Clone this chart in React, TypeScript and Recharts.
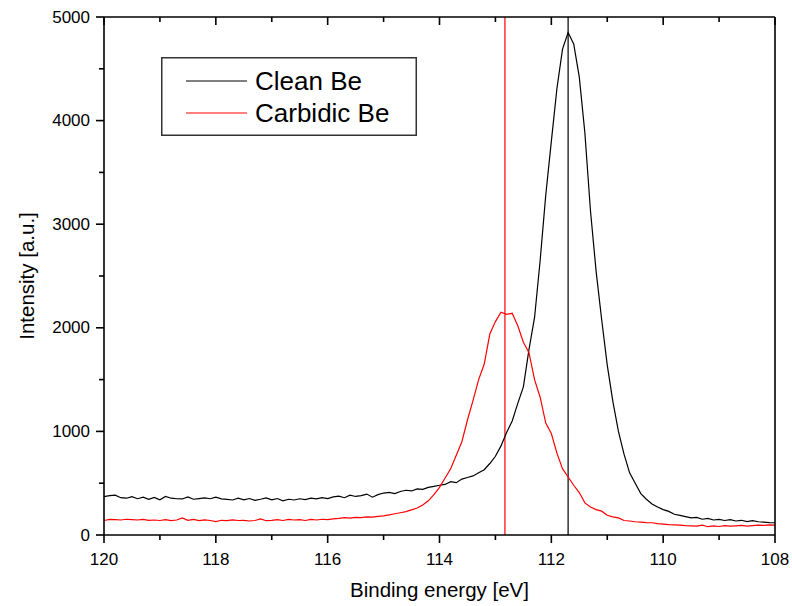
import {
  Label,
  Legend,
  Line,
  LineChart,
  ReferenceLine,
  XAxis,
  YAxis,
} from "recharts";

const energies = [
  120.0, 119.9, 119.8, 119.7, 119.6, 119.5, 119.4, 119.3, 119.2, 119.1,
  119.0, 118.9, 118.8, 118.7, 118.6, 118.5, 118.4, 118.3, 118.2, 118.1,
  118.0, 117.9, 117.8, 117.7, 117.6, 117.5, 117.4, 117.3, 117.2, 117.1,
  117.0, 116.9, 116.8, 116.7, 116.6, 116.5, 116.4, 116.3, 116.2, 116.1,
  116.0, 115.9, 115.8, 115.7, 115.6, 115.5, 115.4, 115.3, 115.2, 115.1,
  115.0, 114.9, 114.8, 114.7, 114.6, 114.5, 114.4, 114.3, 114.2, 114.1,
  114.0, 113.9, 113.8, 113.7, 113.6, 113.5, 113.4, 113.3, 113.2, 113.1,
  113.0, 112.9, 112.8, 112.7, 112.6, 112.5, 112.4, 112.3, 112.2, 112.1,
  112.0, 111.9, 111.8, 111.7, 111.6, 111.5, 111.4, 111.3, 111.2, 111.1,
  111.0, 110.9, 110.8, 110.7, 110.6, 110.5, 110.4, 110.3, 110.2, 110.1,
  110.0, 109.9, 109.8, 109.7, 109.6, 109.5, 109.4, 109.3, 109.2, 109.1,
  109.0, 108.9, 108.8, 108.7, 108.6, 108.5, 108.4, 108.3, 108.2, 108.1,
  108.0,
];

const cleanBe = [
  370, 380, 385, 360, 355, 370, 350, 365, 345, 362,
  340, 372, 355, 350, 348, 368, 345, 352, 358, 350,
  365, 348, 343, 338, 355, 340, 352, 335, 345, 358,
  340, 352, 330, 345, 338, 350, 342, 355, 348, 360,
  352, 368, 375, 360, 385, 372, 380, 395, 365, 390,
  405, 412, 400, 420, 432, 425, 445, 440, 460, 470,
  480, 488, 515, 505, 540, 555, 570, 600, 630, 690,
  760, 860, 990, 1100, 1270, 1430, 1790, 2100, 2650, 3280,
  3800, 4310, 4690, 4850, 4740, 4420, 3880, 3130, 2550, 2080,
  1640, 1290, 1000, 780, 600, 500, 400, 345, 300, 270,
  245, 228, 200, 190, 178, 165, 170, 152, 160, 145,
  150, 140, 148, 135, 142, 130, 138, 128, 125, 120,
  118,
];

const carbidicBe = [
  140, 150, 148, 145, 152, 148, 145, 150, 142, 145,
  140, 148, 138, 145, 165, 142, 150, 138, 145, 140,
  130, 142, 138, 145, 140, 142, 135, 140, 155, 138,
  142, 148, 140, 150, 145, 148, 140, 150, 145, 152,
  148, 155, 160, 168, 162, 170, 168, 175, 172, 180,
  185, 195, 205, 215, 225, 242, 260, 290, 330, 390,
  460, 550, 640, 770, 900, 1110, 1300, 1500, 1650, 1940,
  2060, 2150, 2130, 2140, 2020, 1860, 1760, 1500, 1330, 1080,
  980, 790, 640, 560, 480, 410, 310, 270, 245, 230,
  190, 175, 165, 140, 135, 128, 125, 120, 118, 110,
  105, 100, 98, 95, 90, 88, 85, 95, 80, 88,
  82, 90, 85, 88, 92, 85, 90, 95, 92, 98,
  95,
];

const seriesNames = ["Clean Be", "Carbidic Be"];

const xTicks = [120, 119, 118, 117, 116, 115, 114, 113, 112, 111, 110, 109, 108];
const yTicks = [0, 500, 1000, 1500, 2000, 2500, 3000, 3500, 4000, 4500, 5000];

// peak positions marked with vertical lines
const carbidicPeak = 112.83;
const cleanPeak = 111.7;

const data = energies.map((e, i) => ({
  energy: e,
  clean: cleanBe[i],
  carbidic: carbidicBe[i],
}));

const FONT = "'Liberation Sans', Arial, sans-serif";
const axisStroke = { stroke: "#000", strokeWidth: 1.6 };
const TW = 1.6; // tick thickness

const isMajorX = (v: number) => v % 2 === 0;
const isMajorY = (v: number) => v % 1000 === 0;

function BottomTick({ x, y, payload }: any) {
  const major = isMajorX(payload.value);
  return (
    <g>
      <rect x={x - TW / 2} y={y} width={TW} height={major ? 8 : 5} fill="#000" />
      {major && (
        <text x={x} y={y + 24} textAnchor="middle" dominantBaseline="central" fontSize={17} fill="#000" fontFamily={FONT}>
          {payload.value}
        </text>
      )}
    </g>
  );
}

function TopTick({ x, y, payload }: any) {
  const major = isMajorX(payload.value);
  return <rect x={x - TW / 2} y={y} width={TW} height={major ? 8 : 5} fill="#000" />;
}

function LeftTick({ x, y, payload }: any) {
  const major = isMajorY(payload.value);
  const len = major ? 8 : 5;
  return (
    <g>
      <rect x={x - len} y={y - TW / 2} width={len} height={TW} fill="#000" />
      {major && (
        <text x={x - 14} y={y} textAnchor="end" dominantBaseline="central" fontSize={17} fill="#000" fontFamily={FONT}>
          {payload.value}
        </text>
      )}
    </g>
  );
}

function RightTick({ x, y, payload }: any) {
  const len = isMajorY(payload.value) ? 8 : 5;
  return <rect x={x - len} y={y - TW / 2} width={len} height={TW} fill="#000" />;
}

function LegendBox({ payload }: any) {
  const items = [...(payload || [])].sort(
    (a: any, b: any) => seriesNames.indexOf(a.value) - seriesNames.indexOf(b.value)
  );
  return (
    <svg width={256} height={79} style={{ display: "block" }}>
      <rect x={0.75} y={0.75} width={254.5} height={77.5} fill="#fff" stroke="#333" strokeWidth={1.5} />
      {items.map((p: any, i: number) => (
        <g key={p.value}>
          <line x1={25} x2={86} y1={24 + i * 32} y2={24 + i * 32} stroke={p.color} strokeWidth={1.2} />
          <text x={94} y={24 + i * 32} dominantBaseline="central" fontSize={26} fill="#000" fontFamily={FONT}>
            {p.value}
          </text>
        </g>
      ))}
    </svg>
  );
}

export default function App() {
  const xCommon = {
    dataKey: "energy",
    type: "number" as const,
    domain: [108, 120],
    reversed: true,
    interval: 0 as const,
    ticks: xTicks,
    tickSize: 0,
    tickMargin: 0,
    tickLine: false,
    axisLine: axisStroke,
  };
  const yCommon = {
    type: "number" as const,
    domain: [0, 5000],
    interval: 0 as const,
    ticks: yTicks,
    tickSize: 0,
    tickMargin: 0,
    tickLine: false,
    axisLine: axisStroke,
  };

  return (
    <div style={{ position: "absolute", left: 0, top: 0, background: "#fff" }}>
      <LineChart
        width={792}
        height={606}
        data={data}
        margin={{ top: 16, right: 16, bottom: 0, left: 0 }}
        style={{ fontFamily: FONT }}
      >
        <XAxis {...xCommon} xAxisId="bottom" height={71} tick={<BottomTick />}>
          <Label
            content={({ viewBox }: any) => (
              <text x={viewBox.x + viewBox.width / 2} y={viewBox.y + 62} textAnchor="middle" fontSize={20.5} fill="#000" fontFamily={FONT}>
                Binding energy [eV]
              </text>
            )}
          />
        </XAxis>
        <XAxis {...xCommon} xAxisId="top" orientation="top" height={1} tick={<TopTick />} />
        <YAxis {...yCommon} yAxisId="left" width={104} tick={<LeftTick />}>
          <Label
            content={({ viewBox }: any) => {
              const cx = 26;
              const cy = viewBox.y + viewBox.height / 2;
              return (
                <text x={cx} y={cy} transform={`rotate(-90 ${cx} ${cy})`} textAnchor="middle" dominantBaseline="central" fontSize={20.5} fill="#000" fontFamily={FONT}>
                  Intensity [a.u.]
                </text>
              );
            }}
          />
        </YAxis>
        <YAxis {...yCommon} yAxisId="right" orientation="right" width={1} tick={<RightTick />} />
        <Legend
          layout="vertical"
          align="center"
          verticalAlign="middle"
          content={<LegendBox />}
          wrapperStyle={{ left: 161, top: 57, width: 256, height: 79 }}
        />
        <ReferenceLine xAxisId="bottom" yAxisId="left" x={carbidicPeak} stroke="#ff0000" strokeWidth={1.2} />
        <ReferenceLine xAxisId="bottom" yAxisId="left" x={cleanPeak} stroke="#000" strokeWidth={1.2} />
        <Line xAxisId="bottom" yAxisId="left" name={seriesNames[0]} dataKey="clean" type="linear" stroke="#000" strokeWidth={1.2} dot={false} isAnimationActive={false} />
        <Line xAxisId="bottom" yAxisId="left" name={seriesNames[1]} dataKey="carbidic" type="linear" stroke="#ff0000" strokeWidth={1.2} dot={false} isAnimationActive={false} />
      </LineChart>
    </div>
  );
}
